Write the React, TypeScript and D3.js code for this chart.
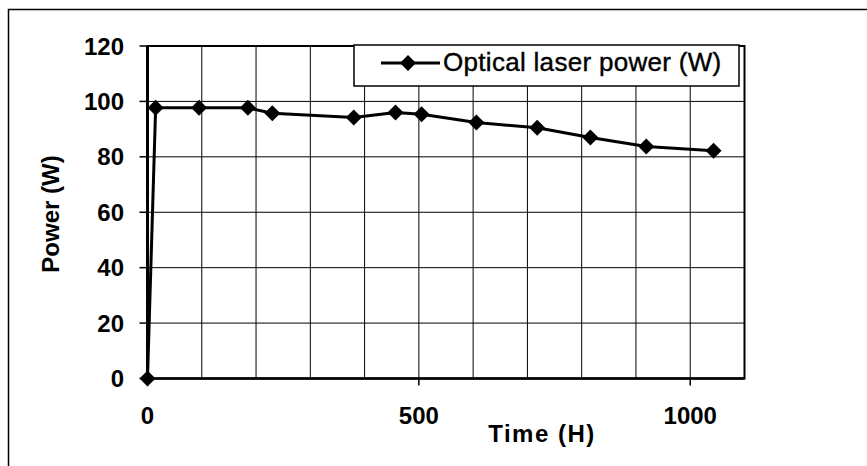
import React from "react";
import * as d3 from "d3";

const timeH = [0, 15, 95, 185, 230, 380, 457, 505, 606, 718, 816, 919, 1043];
const powerW = [0, 97.7, 97.7, 97.7, 95.7, 94.2, 96.0, 95.4, 92.4, 90.5, 87.0, 83.7, 82.2];
const yTicks = [0, 20, 40, 60, 80, 100, 120];
const xLabelTicks = [0, 500, 1000];
const xGridTicks = [100, 200, 300, 400, 500, 600, 700, 800, 900, 1000];
const seriesName = "Optical laser power (W)";
const xTitle = "Time (H)";
const yTitle = "Power (W)";

const W = 867;
const H = 466;
const FONT = "'Liberation Sans', Arial, sans-serif";

export default function App() {
  const x = d3.scaleLinear().domain([0, 1100]).range([147.5, 744.5]);
  const y = d3.scaleLinear().domain([0, 120]).range([378.5, 46]);
  const pts: [number, number][] = timeH.map((t, i) => [t, powerW[i]]);
  const line = d3
    .line<[number, number]>()
    .x((d) => x(d[0]))
    .y((d) => y(d[1]));
  const diamond = (cx: number, cy: number, r: number) =>
    `M${cx},${cy - r}L${cx + r},${cy}L${cx},${cy + r}L${cx - r},${cy}Z`;

  const x0 = x(0);
  const x1 = x(1100);
  const yb = y(0);
  const yt = y(120);

  return (
    <svg
      width={W}
      height={H}
      style={{ position: "absolute", left: 0, top: 0, background: "#fff" }}
      fontFamily={FONT}
    >
      <rect x={0} y={0} width={W} height={H} fill="#fff" />
      {/* outer frame */}
      <path d={`M8.5,${H}V9.5H${W}`} fill="none" stroke="#000" strokeWidth={1.5} />

      {/* horizontal gridlines */}
      {yTicks.map((t) => (
        <line key={"hg" + t} x1={x0} x2={x1} y1={y(t)} y2={y(t)} stroke="#000" strokeWidth={1} />
      ))}
      {/* vertical gridlines */}
      {xGridTicks.map((t) => (
        <line key={"vg" + t} x1={x(t)} x2={x(t)} y1={yt} y2={yb} stroke="#000" strokeWidth={1} />
      ))}
      {/* plot border */}
      <rect x={x0} y={yt} width={x1 - x0} height={yb - yt} fill="none" stroke="#000" strokeWidth={2} />
      {/* y axis */}
      <line x1={x0} x2={x0} y1={yt} y2={yb} stroke="#000" strokeWidth={3} />
      {yTicks.map((t) => (
        <g key={"yt" + t}>
          <line x1={x0 - 8} x2={x0} y1={y(t)} y2={y(t)} stroke="#000" strokeWidth={1.5} />
          <text
            x={124}
            y={y(t)}
            textAnchor="end"
            dominantBaseline="central"
            fontSize={24}
            fontWeight="bold"
          >
            {t}
          </text>
        </g>
      ))}
      {/* x axis */}
      <line x1={x0} x2={x1} y1={yb} y2={yb} stroke="#000" strokeWidth={2.5} />
      {xLabelTicks.map((t) => (
        <g key={"xt" + t}>
          <line x1={x(t)} x2={x(t)} y1={yb} y2={yb + 7} stroke="#000" strokeWidth={1.5} />
          <text
            x={x(t)}
            y={415}
            textAnchor="middle"
            dominantBaseline="central"
            fontSize={24}
            fontWeight="bold"
          >
            {t}
          </text>
        </g>
      ))}

      {/* titles */}
      <text x={542} y={433} textAnchor="middle" dominantBaseline="central" fontSize={24} fontWeight="bold" letterSpacing={1.5}>
        {xTitle}
      </text>
      <text
        transform={`translate(50,214) rotate(-90)`}
        textAnchor="middle"
        dominantBaseline="central"
        fontSize={24}
        fontWeight="bold"
      >
        {yTitle}
      </text>

      {/* series */}
      <path d={line(pts) || ""} fill="none" stroke="#000" strokeWidth={3} strokeLinejoin="round" />
      {pts.map((d, i) => (
        <path key={"m" + i} d={diamond(x(d[0]), y(d[1]), 8)} fill="#000" />
      ))}

      {/* legend */}
      <rect x={354} y={45} width={385} height={41} fill="#fff" stroke="#000" strokeWidth={1.5} />
      <line x1={381} x2={440} y1={63} y2={63} stroke="#000" strokeWidth={3} />
      <path d={diamond(408, 63, 8)} fill="#000" />
      <text x={443} y={62} dominantBaseline="central" fontSize={26} letterSpacing={0.3} stroke="#000" strokeWidth={0.4}>
        {seriesName}
      </text>
    </svg>
  );
}
